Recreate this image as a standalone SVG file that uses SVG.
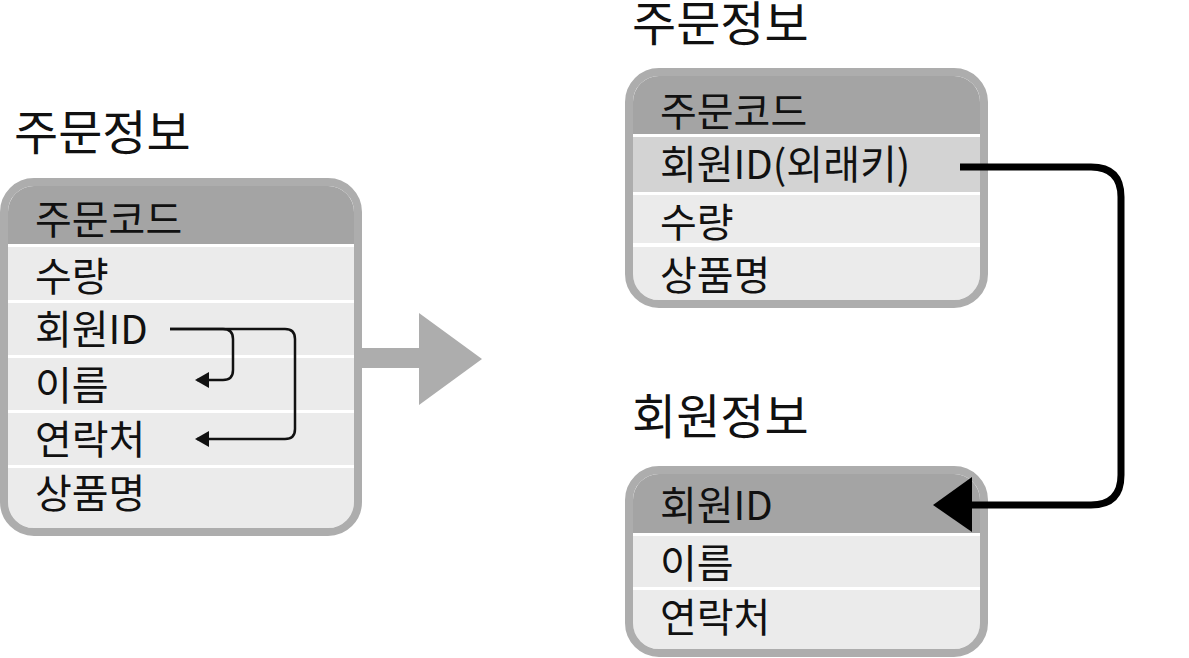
<svg xmlns="http://www.w3.org/2000/svg" width="1189" height="658" viewBox="0 0 1189 658">
<style>
.t{font-family:"Noto Sans CJK KR","Noto Sans",sans-serif;fill:#111;}
.title{font-size:48px;}
.cell{font-size:40px;}
.hdr{fill:#a4a4a4;}
.row{fill:#ebebeb;}
.hl{fill:#d3d3d3;}
.frame{fill:none;stroke:#adadad;stroke-width:8;}
.thin{fill:none;stroke:#111;stroke-width:2.5;}
.thick{fill:none;stroke:#000;stroke-width:7;}
</style>
<defs>
<clipPath id="c1"><rect x="8" y="186" width="346" height="342" rx="26"/></clipPath>
<clipPath id="c2"><rect x="633" y="76" width="347" height="224" rx="26"/></clipPath>
<clipPath id="c3"><rect x="633" y="474" width="347" height="175" rx="26"/></clipPath>
<marker id="ah" markerUnits="userSpaceOnUse" markerWidth="14" markerHeight="16" refX="12" refY="8" orient="auto"><path d="M0,0 L14,8 L0,16 Z" fill="#111"/></marker>
</defs>
<rect width="1189" height="658" fill="#fff"/>

<g id="title-left"><text class="t title" x="14" y="150">주문정보</text></g>
<g id="title-order"><text class="t title" x="632" y="41">주문정보</text></g>
<g id="title-member"><text class="t title" x="632" y="434">회원정보</text></g>

<g id="connectors">
<polygon points="355,348 419,348 419,313 482,359 419,405 419,368 355,368" fill="#adadad"/>
</g>

<g id="table-left">
<g clip-path="url(#c1)">
<rect x="0" y="180" width="362" height="360" fill="#fff"/>
<rect class="hdr" x="0" y="180" width="362" height="64"/>
<rect class="row" x="0" y="247" width="362" height="53"/>
<rect class="row" x="0" y="303" width="362" height="52"/>
<rect class="row" x="0" y="358" width="362" height="52"/>
<rect class="row" x="0" y="413" width="362" height="52"/>
<rect class="row" x="0" y="468" width="362" height="64"/>
</g>
<rect class="frame" x="4" y="182" width="354" height="350" rx="30"/>
<text class="t cell" x="35" y="234">주문코드</text>
<text class="t cell" x="35" y="291">수량</text>
<text class="t cell" x="35" y="344">회원ID</text>
<text class="t cell" x="35" y="400">이름</text>
<text class="t cell" x="35" y="454">연락처</text>
<text class="t cell" x="35" y="508">상품명</text>
</g>

<g id="table-order">
<g clip-path="url(#c2)">
<rect x="625" y="70" width="365" height="240" fill="#fff"/>
<rect class="hdr" x="625" y="70" width="365" height="64"/>
<rect class="hl" x="625" y="137" width="365" height="55"/>
<rect class="row" x="625" y="195" width="365" height="48"/>
<rect class="row" x="625" y="247" width="365" height="60"/>
</g>
<rect class="frame" x="629" y="72" width="355" height="232" rx="30"/>
<text class="t cell" x="660" y="126">주문코드</text>
<text class="t cell" x="660" y="179">회원ID(외래키)</text>
<text class="t cell" x="660" y="237">수량</text>
<text class="t cell" x="660" y="290">상품명</text>
</g>

<g id="table-member">
<g clip-path="url(#c3)">
<rect x="625" y="466" width="365" height="192" fill="#fff"/>
<rect class="hdr" x="625" y="466" width="365" height="67"/>
<rect class="row" x="625" y="536" width="365" height="51"/>
<rect class="row" x="625" y="590" width="365" height="65"/>
</g>
<rect class="frame" x="629" y="470" width="355" height="183" rx="30"/>
<text class="t cell" x="660" y="520">회원ID</text>
<text class="t cell" x="660" y="578">이름</text>
<text class="t cell" x="660" y="632">연락처</text>
</g>

<g id="connectors-lines">
<path class="thin" d="M170,329 H223 Q233,329 233,339 V370 Q233,380 223,380 H197" marker-end="url(#ah)"/>
<path class="thin" d="M170,329 H285 Q295,329 295,339 V429 Q295,439 285,439 H197" marker-end="url(#ah)"/>
<path class="thick" d="M960,167 H1091 Q1121,167 1121,197 V475 Q1121,505 1091,505 H968"/>
<polygon points="933,505 972,477 972,532" fill="#000"/>
</g>
</svg>
